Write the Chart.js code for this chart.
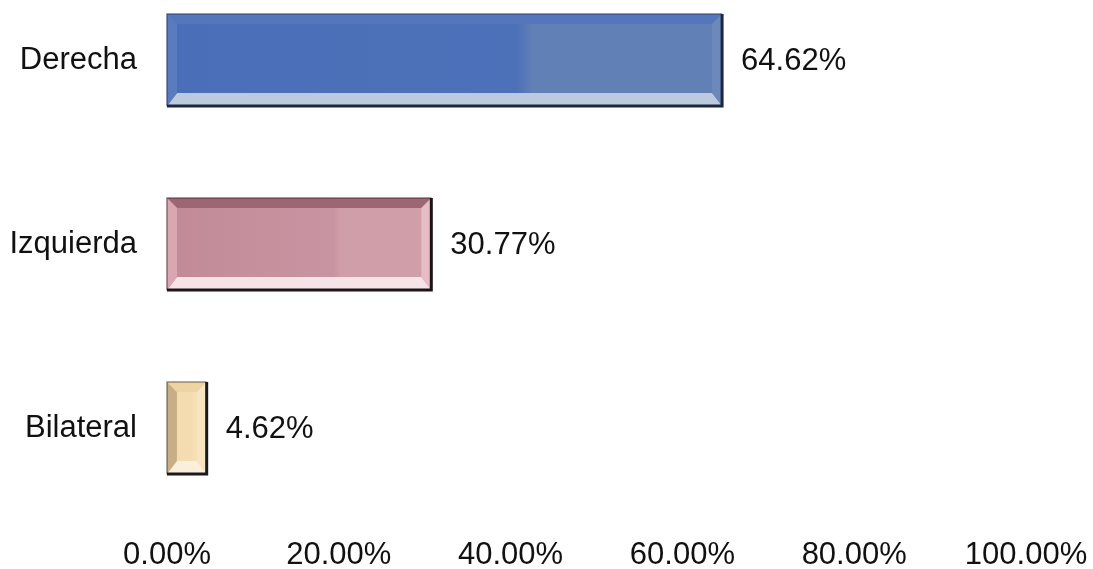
<!DOCTYPE html>
<html>
<head>
<meta charset="utf-8">
<script src="https://cdn.jsdelivr.net/npm/chart.js@4.4.0/dist/chart.umd.min.js"></script>
<style>
  html, body { margin: 0; padding: 0; background: #fff; }
  #wrap { width: 1093px; height: 569px; }
</style>
</head>
<body>
<div id="wrap"><canvas id="lateralidadChart"></canvas></div>
<script>
// Datos
const categorias = ['Derecha', 'Izquierda', 'Bilateral'];
const porcentajes = [64.62, 30.77, 4.62];
const ticksX = [0, 20, 40, 60, 80, 100];

// Colores de cada barra (cuerpo + biseles + borde)
const estilos = [
    { body: ['#4a6fb8', '#4d71b9', '#6180b5'], top: '#5676bb', bottom: '#bccadf', left: '#5a7bbe', right: '#6d89bb', border: '#1c2640' },
    { body: ['#c28a97', '#c994a1', '#d09ea9'], top: '#9d6675', bottom: '#f5e3e7', left: '#d8a7b2', right: '#e6bdc6', border: '#1e1416' },
    { body: ['#f3dbad', '#f4ddb1', '#f5dfb4'], top: '#eed4a3', bottom: '#faefdc', left: '#c8ae86', right: '#f7e5c1', border: '#1a1a1a' }
];

const fuente = '"Liberation Sans", Arial, sans-serif';

// Relleno con degradado horizontal para cada barra
function rellenoBarra(ctx) {
    const chart = ctx.chart;
    const area = chart.chartArea;
    if (!area) return estilos[ctx.dataIndex].body[0];
    const st = estilos[ctx.dataIndex].body;
    const xs = chart.scales.x;
    const x0 = xs.getPixelForValue(0);
    const x1 = xs.getPixelForValue(porcentajes[ctx.dataIndex]);
    const g = chart.ctx.createLinearGradient(x0, 0, x1, 0);
    g.addColorStop(0, st[0]);
    g.addColorStop(0.63, st[1]);
    g.addColorStop(0.66, st[2]);
    g.addColorStop(1, st[2]);
    return g;
}

// Biseles, bordes y etiquetas de valor
const biselPlugin = {
    id: 'bisel',
    afterDatasetsDraw(chart) {
        const ctx = chart.ctx;
        const meta = chart.getDatasetMeta(0);
        meta.data.forEach((bar, i) => {
            const st = estilos[i];
            const l = bar.base, r = bar.x;
            const t = bar.y - bar.height / 2, b = bar.y + bar.height / 2;
            const w = r - l;
            const bv = Math.min(10, w / 4);
            const bvb = Math.min(13, w / 3);

            const poly = (pts, color) => {
                ctx.beginPath();
                ctx.moveTo(pts[0][0], pts[0][1]);
                for (let k = 1; k < pts.length; k++) ctx.lineTo(pts[k][0], pts[k][1]);
                ctx.closePath();
                ctx.fillStyle = color;
                ctx.fill();
            };

            ctx.save();
            // arriba
            poly([[l, t], [r, t], [r - bv, t + bv], [l + bv, t + bv]], st.top);
            // abajo
            poly([[l, b], [r, b], [r - bv, b - bvb], [l + bv, b - bvb]], st.bottom);
            // izquierda
            poly([[l, t], [l + bv, t + bv], [l + bv, b - bvb], [l, b]], st.left);
            // derecha
            poly([[r, t], [r - bv, t + bv], [r - bv, b - bvb], [r, b]], st.right);

            // bordes
            ctx.strokeStyle = st.border;
            ctx.globalAlpha = 0.45;
            ctx.lineWidth = 1.5;
            ctx.beginPath();
            ctx.moveTo(l, b);
            ctx.lineTo(l, t);
            ctx.lineTo(r, t);
            ctx.stroke();
            ctx.globalAlpha = 1;
            ctx.lineWidth = 3;
            ctx.beginPath();
            ctx.moveTo(r, t);
            ctx.lineTo(r, b);
            ctx.lineTo(l, b);
            ctx.stroke();

            // etiqueta de valor
            ctx.fillStyle = '#111';
            ctx.font = '31px ' + fuente;
            ctx.textAlign = 'left';
            ctx.textBaseline = 'middle';
            ctx.fillText(porcentajes[i].toFixed(2) + '%', r + 19, bar.y + 1);
            ctx.restore();
        });
    }
};

const ctx = document.getElementById('lateralidadChart').getContext('2d');

new Chart(ctx, {
    type: 'bar',
    data: {
        labels: categorias,
        datasets: [{
            data: porcentajes,
            backgroundColor: rellenoBarra,
            borderWidth: 0,
            barThickness: 92,
            clip: false
        }]
    },
    options: {
        indexAxis: 'y',
        responsive: true,
        maintainAspectRatio: false,
        animation: false,
        layout: {
            padding: { top: 60, right: 67, left: 0, bottom: 0 }
        },
        plugins: {
            legend: { display: false },
            tooltip: { enabled: false }
        },
        scales: {
            x: {
                min: 0,
                max: 100,
                afterBuildTicks: (scale) => {
                    scale.ticks = ticksX.map(v => ({ value: v }));
                },
                afterFit: (scale) => {
                    // el padding de las etiquetas no debe encoger el área horizontal
                    scale.height = 141;
                    scale.paddingLeft = 0;
                    scale.paddingRight = 0;
                },
                grid: { display: false, drawTicks: false },
                border: { display: false },
                ticks: {
                    color: '#111',
                    font: { family: fuente, size: 31 },
                    padding: 109,
                    maxRotation: 0,
                    callback: (v) => Number(v).toFixed(2) + '%'
                }
            },
            y: {
                offset: false,
                afterFit: (scale) => { scale.width = 167; },
                grid: { display: false, drawTicks: false },
                border: { display: false },
                ticks: {
                    color: '#111',
                    font: { family: fuente, size: 31 },
                    padding: 30
                }
            }
        }
    },
    plugins: [biselPlugin]
});
</script>
</body>
</html>
